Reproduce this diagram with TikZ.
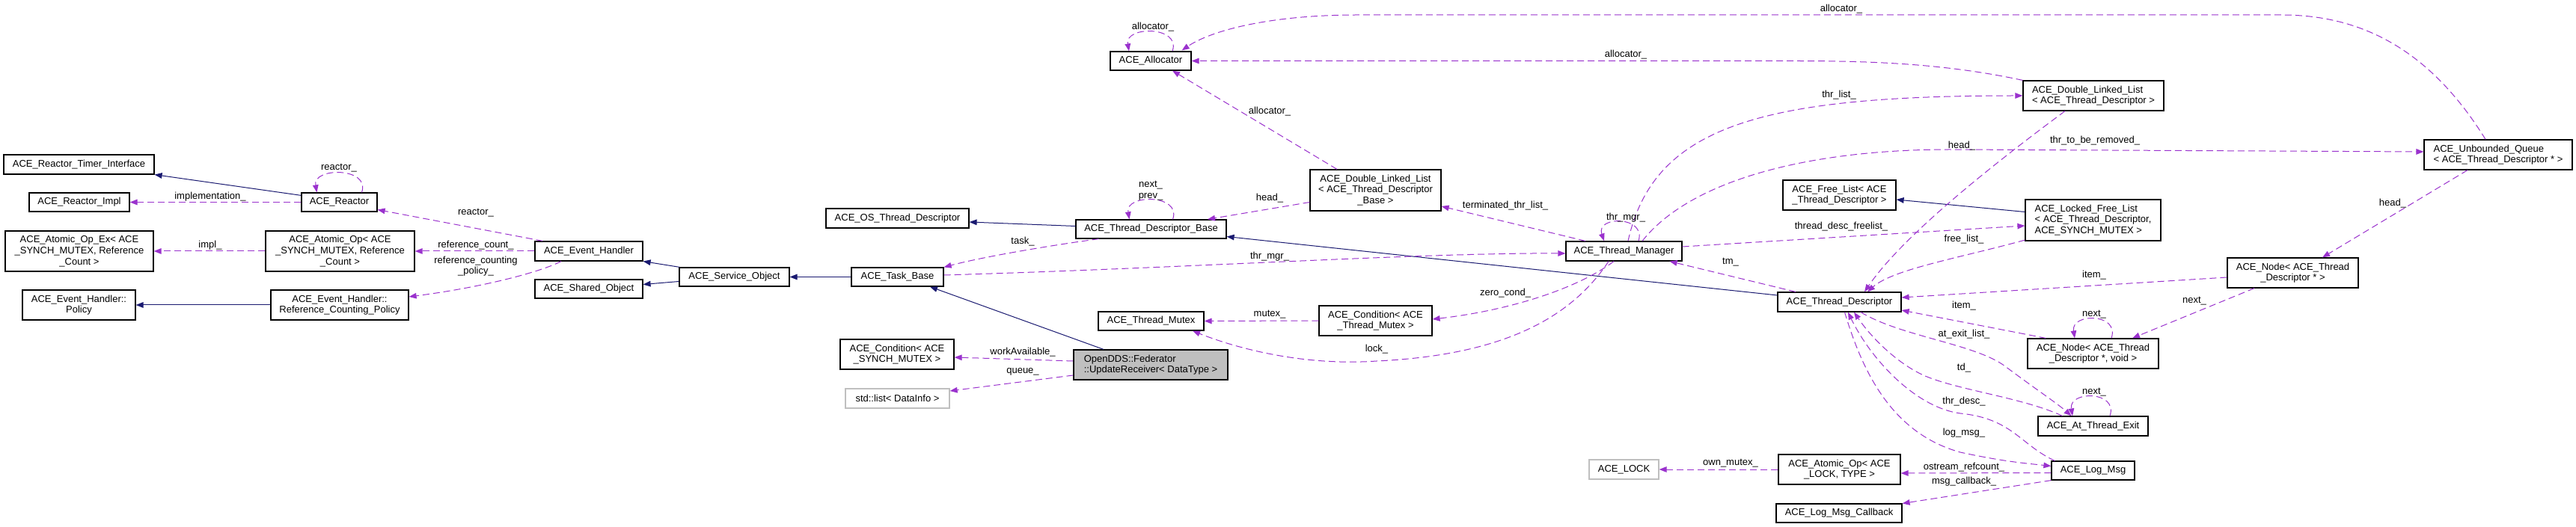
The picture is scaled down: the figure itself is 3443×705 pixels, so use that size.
\documentclass[tikz,border=0pt]{standalone}
\usepackage{fontspec}
\setmainfont{Liberation Sans}
\usetikzlibrary{arrows.meta,calc}
\definecolor{navy}{HTML}{191970}
\definecolor{purp}{HTML}{9A32CD}
\definecolor{gray75}{HTML}{BFBFBF}
\newcommand{\nf}{\fontsize{6.5}{7.35}\selectfont}
\newcommand{\bx}[7][]{\node[box,#1,minimum width={(#4-#2)*0.5pt},minimum height={(#5-#3)*0.5pt}] (#6) at ({(#2+#4)/2},{(#3+#5)/2}) {#7};}
\tikzset{
  box/.style={draw=black, line width=0.6pt, fill=white, inner sep=0pt, align=center, font=\nf},
  graybox/.style={draw=gray75},
  hl/.style={fill=gray75},
  lbl/.style={inner sep=0pt, font=\nf, align=center},
  inh/.style={draw=navy, line width=0.5pt, -{Triangle[length=5pt,width=3.8pt]}, navy},
  use/.style={draw=purp, line width=0.5pt, dash pattern=on 4.5pt off 2.5pt, -{Triangle[length=5pt,width=3.8pt]}, purp},
}
\begin{document}
\begin{tikzpicture}[x=0.5pt,y=-0.5pt]
\useasboundingbox (0,0) rectangle (3443,705);
% ---------- nodes ----------
\bx{5}{207}{206}{233}{rti}{ACE\_Reactor\_Timer\_Interface}
\bx{39}{258}{173}{283}{rimpl}{ACE\_Reactor\_Impl}
\bx{403}{258}{504}{283}{reactor}{ACE\_Reactor}
\bx{7}{309}{205}{363}{aopex}{ACE\_Atomic\_Op\_Ex< ACE\\\_SYNCH\_MUTEX, Reference\\\_Count >}
\bx{355}{309}{554}{363}{aop}{ACE\_Atomic\_Op< ACE\\\_SYNCH\_MUTEX, Reference\\\_Count >}
\bx{30}{388}{181}{428}{policy}{ACE\_Event\_Handler::\\Policy}
\bx{362}{388}{546}{428}{rcp}{ACE\_Event\_Handler::\\Reference\_Counting\_Policy}
\bx{715}{323}{859}{349}{eh}{ACE\_Event\_Handler}
\bx{715}{374}{859}{399}{so}{ACE\_Shared\_Object}
\bx{908}{358}{1055}{383}{svc}{ACE\_Service\_Object}
\bx{1138}{358}{1261}{383}{task}{ACE\_Task\_Base}
\bx{1104}{279}{1295}{305}{ostd}{ACE\_OS\_Thread\_Descriptor}
\bx{1123}{454}{1275}{494}{cond}{ACE\_Condition< ACE\\\_SYNCH\_MUTEX >}
\bx[graybox]{1130}{520}{1269}{546}{list}{std::list< DataInfo >}
\bx{1484}{69}{1592}{94}{alloc}{ACE\_Allocator}
\bx{1751}{227}{1926}{282}{dlltdb}{ACE\_Double\_Linked\_List\\< ACE\_Thread\_Descriptor\\\_Base >}
\bx{1438}{294}{1639}{319}{tdb}{ACE\_Thread\_Descriptor\_Base}
\bx{1468}{417}{1609}{442}{tmutex}{ACE\_Thread\_Mutex}
\bx{1763}{409}{1914}{449}{condtm}{ACE\_Condition< ACE\\\_Thread\_Mutex >}
\bx[hl,align=left]{1435}{468}{1641}{508}{ur}{OpenDDS::Federator\\::UpdateReceiver< DataType >}
\bx{2093}{323}{2248}{349}{tm}{ACE\_Thread\_Manager}
\bx[align=left]{2704}{108}{2892}{148}{dlltd}{ACE\_Double\_Linked\_List\\< ACE\_Thread\_Descriptor >}
\bx{2383}{241}{2534}{281}{freelist}{ACE\_Free\_List< ACE\\\_Thread\_Descriptor >}
\bx[align=left]{2707}{267}{2888}{322}{lfl}{ACE\_Locked\_Free\_List\\< ACE\_Thread\_Descriptor,\\ ACE\_SYNCH\_MUTEX >}
\bx{2376}{391}{2541}{417}{td}{ACE\_Thread\_Descriptor}
\bx[align=left]{3240}{187}{3438}{227}{uq}{ACE\_Unbounded\_Queue\\< ACE\_Thread\_Descriptor * >}
\bx{2977}{345}{3152}{385}{node1}{ACE\_Node< ACE\_Thread\\\_Descriptor * >}
\bx{2710}{453}{2885}{493}{node2}{ACE\_Node< ACE\_Thread\\\_Descriptor *, void >}
\bx{2724}{557}{2871}{583}{ate}{ACE\_At\_Thread\_Exit}
\bx{2742}{617}{2853}{642}{logmsg}{ACE\_Log\_Msg}
\bx[graybox]{2124}{615}{2217}{641}{lock}{ACE\_LOCK}
\bx{2377}{608}{2540}{648}{aoplock}{ACE\_Atomic\_Op< ACE\\\_LOCK, TYPE >}
\bx{2374}{674}{2542}{699}{cb}{ACE\_Log\_Msg\_Callback}
% ---------- inheritance ----------
\draw[inh] ($(reactor.north west)+(0,4)$) -- (rti.south east);
\draw[inh] (rcp.west) -- (policy.east);
\draw[inh] ($(svc.north west)+(1,0)$) -- (eh.south east);
\draw[inh] ($(svc.west)+(0,6)$) -- ($(so.east)+(0,-6)$);
\draw[inh] (task.west) -- (svc.east);
\draw[inh] ($(tdb.west)+(0,-4)$) -- ($(ostd.east)+(0,5)$);
\draw[inh] ($(ur.north)+(-63,0)$) -- ($(task.south)+(43.5,0)$);
\draw[inh] ($(td.west)+(0,-9)$) -- ($(tdb.east)+(0,10)$);
\draw[inh] ($(lfl.west)+(0,-11)$) -- ($(freelist.east)+(0,6)$);
% ---------- usage ----------
\draw[use] ($(reactor.north)+(30,0)$) .. controls ($(reactor.north)+(42,-34)$) and ($(reactor.north)+(-36,-34)$) .. ($(reactor.north)+(-30,0)$);
\draw[use] (reactor.west) -- (rimpl.east);
\draw[use] ($(eh.north west)+(11,0)$) -- ($(reactor.east)+(0,10)$);
\draw[use] (aop.west) -- (aopex.east);
\draw[use] (eh.west) -- (aop.east);
\draw[use] ($(eh.south)+(-37,0)$) .. controls (720,365) and (640,385) .. ($(rcp.east)+(0,-11)$);
\draw[use] ($(tdb.south)+(-70,0)$) .. controls (1420,326) and (1320,342) .. (task.north east);
\draw[use] ($(task.east)+(0,-2.5)$) .. controls (1600,358) and (1900,338) .. ($(tm.west)+(0,3)$);
\draw[use] ($(alloc.north)+(29,0)$) .. controls ($(alloc.north)+(41,-34)$) and ($(alloc.north)+(-35,-34)$) .. ($(alloc.north)+(-29,0)$);
\draw[use] ($(dlltdb.north)+(-51.5,0)$) -- ($(alloc.south)+(29,0)$);
\draw[use] ($(dlltdb.west)+(0,16)$) -- ($(tdb.north)+(75.5,0)$);
\draw[use] ($(tdb.north)+(29,0)$) .. controls ($(tdb.north)+(41,-34)$) and ($(tdb.north)+(-35,-34)$) .. ($(tdb.north)+(-29,0)$);
\draw[use] ($(tm.north)+(-51.5,0)$) -- ($(dlltdb.east)+(0,21.5)$);
\draw[use] (condtm.west) -- (tmutex.east);
\draw[use] ($(tm.south)+(-13.5,0)$) .. controls (2110,385) and (2020,415) .. ($(condtm.east)+(0,-2)$);
\draw[use] ($(tm.south)+(-20.5,0)$) .. controls (2100,425) and (2010,475) .. (1840,483) .. controls (1740,490) and (1650,465) .. ($(tmutex.south)+(55.5,0)$);
\draw[use] ($(ur.west)+(0,-5)$) -- ($(cond.east)+(0,4)$);
\draw[use] ($(ur.west)+(0,14)$) -- ($(list.east)+(0,-10)$);
\draw[use] (dlltd.north west) .. controls (2600,85) and (2500,81.5) .. (2400,81.5) -- (alloc.east);
\draw[use] ($(uq.north)+(-17,0)$) .. controls (3250,70) and (3160,20) .. (3050,20) -- (1813,20) .. controls (1700,20) and (1620,40) .. ($(alloc.north east)+(-13,-1)$);
\draw[use] ($(tm.north)+(5.5,0)$) .. controls (2210,170) and (2350,128) .. (dlltd.west);
\draw[use] ($(tm.north)+(24.5,0)$) .. controls (2260,240) and (2420,200) .. (2606,200) -- ($(uq.west)+(0,-4)$);
\draw[use] ($(tm.north)+(19.5,0)$) .. controls ($(tm.north)+(30,-34)$) and ($(tm.north)+(-38,-34)$) .. ($(tm.north)+(-26.5,0)$);
\draw[use] ($(tm.east)+(0,-6)$) -- ($(lfl.west)+(0,7.5)$);
\draw[use] ($(dlltd.south)+(-38,0)$) .. controls (2650,230) and (2540,320) .. ($(td.north)+(33.5,0)$);
\draw[use] ($(lfl.south west)+(0,-1.5)$) .. controls (2620,345) and (2530,360) .. ($(td.north)+(37.5,0)$);
\draw[use] ($(td.north)+(-58.5,0)$) -- ($(tm.south east)+(-17,0)$);
\draw[use] ($(node1.west)+(0,6)$) -- ($(td.east)+(0,-6)$);
\draw[use] ($(node2.north west)+(25,0)$) -- ($(td.east)+(0,11)$);
\draw[use] ($(uq.south)+(-41,0)$) -- ($(node1.north)+(39.5,0)$);
\draw[use] ($(node1.south)+(-51.5,0)$) -- ($(node2.north)+(52.5,0)$);
\draw[use] ($(node2.north)+(24.5,0)$) .. controls ($(node2.north)+(36,-34)$) and ($(node2.north)+(-30,-34)$) .. ($(node2.north)+(-24.5,0)$);
\draw[use] ($(ate.north)+(22.5,0)$) .. controls ($(ate.north)+(34,-34)$) and ($(ate.north)+(-33,-34)$) .. ($(ate.north)+(-27.5,0)$);
\draw[use] ($(td.south)+(28.5,0)$) .. controls (2540,450) and (2640,460) .. (2680,490) .. controls (2720,520) and (2750,540) .. ($(ate.north)+(-29,0)$);
\draw[use] ($(ate.north west)+(33,0)$) .. controls (2700,530) and (2600,520) .. (2561,497) .. controls (2530,480) and (2500,450) .. ($(td.south)+(19.5,0)$);
\draw[use] ($(logmsg.north west)+(5,0)$) .. controls (2700,595) and (2690,560) .. (2620,553) .. controls (2560,545) and (2500,480) .. ($(td.south)+(11.5,0)$);
\draw[use] ($(td.south)+(7,0)$) .. controls (2490,500) and (2530,580) .. (2620,605) .. controls (2680,618) and (2710,620) .. ($(logmsg.west)+(0,-6)$);
\draw[use] ($(logmsg.west)+(0,3)$) -- ($(aoplock.east)+(0,5)$);
\draw[use] (logmsg.south west) -- ($(cb.east)+(0,-13)$);
\draw[use] (aoplock.west) -- (lock.east);
% ---------- labels ----------
\node[lbl] (l1) at (453,225) {reactor\_};
\node[lbl] (l2) at (281,263) {implementation\_};
\node[lbl] (l3) at (636,285) {reactor\_};
\node[lbl] (l4) at (281,328) {impl\_};
\node[lbl] (l5) at (636,328) {reference\_count\_};
\node[lbl] (l6) at (636,356) {reference\_counting\\\_policy\_};
\node[lbl] (l7) at (1367,323) {task\_};
\node[lbl] (l8) at (1697,343) {thr\_mgr\_};
\node[lbl] (l9) at (1367,471) {workAvailable\_};
\node[lbl] (l10) at (1367,497) {queue\_};
\node[lbl] (l11) at (1541,36) {allocator\_};
\node[lbl] (l12) at (1697,149) {allocator\_};
\node[lbl] (l13) at (1538,255) {next\_\\prev\_};
\node[lbl] (l14) at (1697,265) {head\_};
\node[lbl] (l15) at (2012,275) {terminated\_thr\_list\_};
\node[lbl] (l16) at (1697,421) {mutex\_};
\node[lbl] (l17) at (2012,392) {zero\_cond\_};
\node[lbl] (l18) at (1840,467) {lock\_};
\node[lbl] (l19) at (2461,12) {allocator\_};
\node[lbl] (l20) at (2173,73) {allocator\_};
\node[lbl] (l21) at (2458,127) {thr\_list\_};
\node[lbl] (l22) at (2622,195) {head\_};
\node[lbl] (l23) at (2800,188) {thr\_to\_be\_removed\_};
\node[lbl] (l24) at (2173,291) {thr\_mgr\_};
\node[lbl] (l25) at (2461,303) {thread\_desc\_freelist\_};
\node[lbl] (l26) at (2625,320) {free\_list\_};
\node[lbl] (l27) at (2313,351) {tm\_};
\node[lbl] (l28) at (3198,272) {head\_};
\node[lbl] (l29) at (2799,368) {item\_};
\node[lbl] (l30) at (2933,403) {next\_};
\node[lbl] (l31) at (2799,421) {next\_};
\node[lbl] (l32) at (2625,409) {item\_};
\node[lbl] (l33) at (2625,447) {at\_exit\_list\_};
\node[lbl] (l34) at (2625,492) {td\_};
\node[lbl] (l35) at (2799,525) {next\_};
\node[lbl] (l36) at (2625,537) {thr\_desc\_};
\node[lbl] (l37) at (2625,579) {log\_msg\_};
\node[lbl] (l38) at (2313,620) {own\_mutex\_};
\node[lbl] (l39) at (2625,625) {ostream\_refcount\_};
\node[lbl] (l40) at (2625,644) {msg\_callback\_};
\end{tikzpicture}
\end{document}
